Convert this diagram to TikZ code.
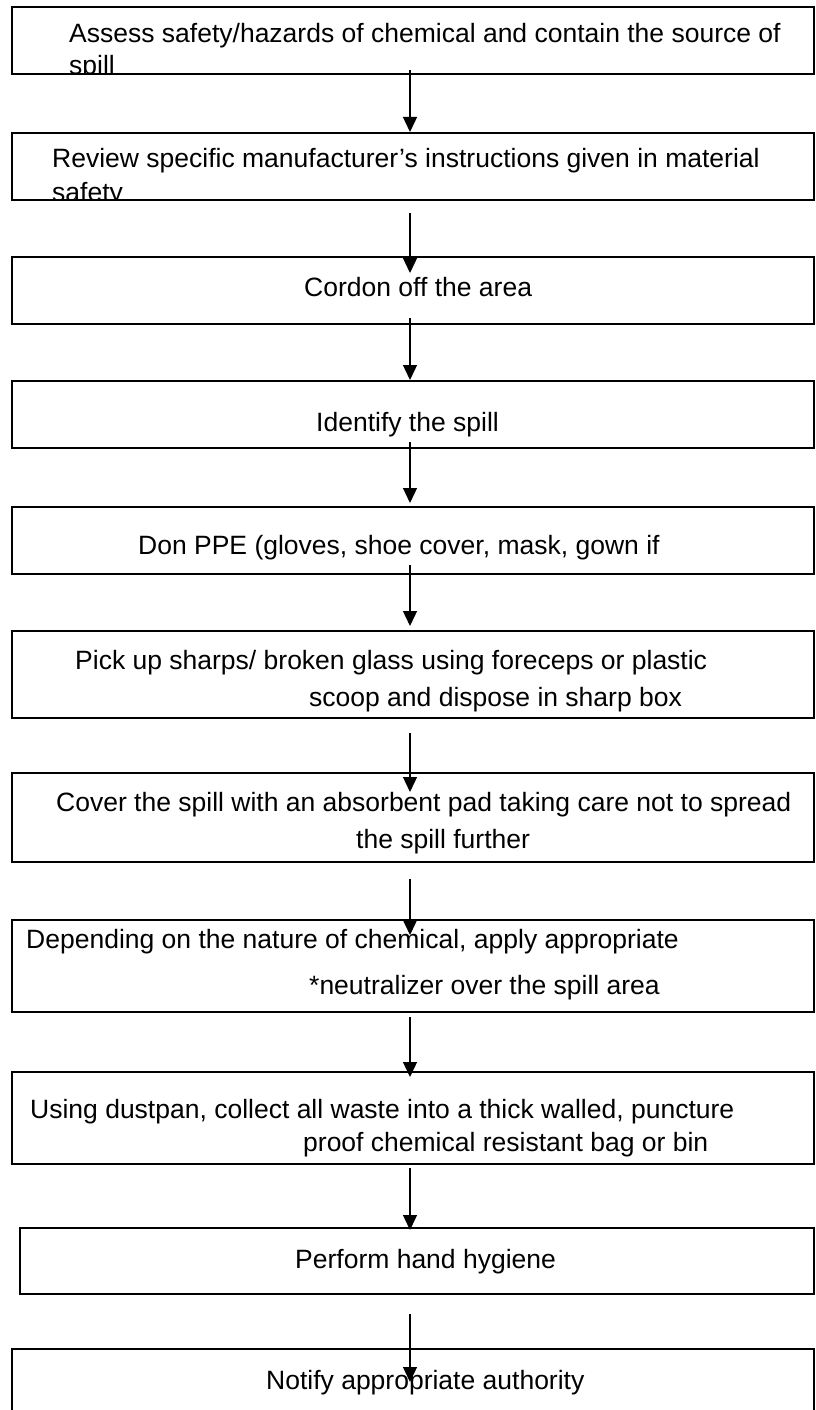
\documentclass[tikz,border=0pt]{standalone}
\usepackage{fontspec}
\setmainfont{Liberation Sans}
\usetikzlibrary{arrows.meta,calc}
\tikzset{
  stepbox/.style={draw=black,line width=1.6pt,inner sep=0pt,outer sep=0pt,minimum width=802pt},
  steptext/.style={anchor=base west,inner sep=0pt,font=\fontsize{26.5}{30}\selectfont},
  flow/.style={line width=1.3pt,-{Triangle[length=15pt,width=14pt]}}
}
\begin{document}
\begin{tikzpicture}[line cap=butt,line join=miter,x=1pt,y=-1pt]
				\useasboundingbox (0,0) rectangle (815,1410);
				\clip (0,0) rectangle (815,1410);
				% boxes
				\node[stepbox,minimum height=67pt] (b1) at (413,40.5) {};
				\node[stepbox,minimum height=67pt] (b2) at (413,166.5) {};
				\node[stepbox,minimum height=67pt] (b3) at (413,290.5) {};
				\node[stepbox,minimum height=67pt] (b4) at (413,414.5) {};
				\node[stepbox,minimum height=67pt] (b5) at (413,540.5) {};
				\node[stepbox,minimum height=87pt] (b6) at (413,674.5) {};
				\node[stepbox,minimum height=89pt] (b7) at (413,817.5) {};
				\node[stepbox,minimum height=92pt] (b8) at (413,966) {};
				\node[stepbox,minimum height=92pt] (b9) at (413,1118) {};
				\node[stepbox,minimum height=66pt,minimum width=794pt] (b10) at (417,1261) {};
				\node[stepbox,minimum height=81pt] (b11) at (413,1389.5) {};
				% texts (the first two boxes cut off their second line)
				\begin{scope}
				\clip (b1.north west) rectangle (b1.south east);
				\node[steptext] (t1a) at (69,42.7) {Assess safety/hazards of chemical and contain the source of};
				\node[steptext] (t1b) at (69,75) {spill};
				\end{scope}
				\begin{scope}
				\clip (b2.north west) rectangle (b2.south east);
				\node[steptext] (t2a) at (52,167.7) {Review specific manufacturer’s instructions given in material};
				\node[steptext] (t2b) at (52,201) {safety};
				\end{scope}
				\node[steptext] (t3) at (304,296) {Cordon off the area};
				\node[steptext] (t4) at (316,431) {Identify the spill};
				\node[steptext] (t5) at (138,554) {Don PPE (gloves, shoe cover, mask, gown if};
				\node[steptext] (t6a) at (75,669) {Pick up sharps/ broken glass using foreceps or plastic};
				\node[steptext] (t6b) at (309,706) {scoop and dispose in sharp box};
				\node[steptext] (t7a) at (56,811) {Cover the spill with an absorbent pad taking care not to spread};
				\node[steptext] (t7b) at (356,848) {the spill further};
				\node[steptext] (t8a) at (26,948) {Depending on the nature of chemical, apply appropriate};
				\node[steptext] (t8b) at (309,994) {*neutralizer over the spill area};
				\node[steptext] (t9a) at (30,1118) {Using dustpan, collect all waste into a thick walled, puncture};
				\node[steptext] (t9b) at (303,1151) {proof chemical resistant bag or bin};
				\node[steptext] (t10) at (295,1268) {Perform hand hygiene};
				\node[steptext] (t11) at (266,1389) {Notify appropriate authority};
				% arrows
				\coordinate (ax) at (410,0);
				\foreach \a/\b/\s/\t in {b1/b2/-4/-1,b2/b3/13/16,b3/b4/-6/-1,b4/b5/-6/-4,b5/b6/-9/-5,b6/b7/15/19,b7/b8/17/15,b8/b9/5/5,b9/b10/4/2,b10/b11/20/33}
				\draw[flow] ($(\a.south -| ax)+(0,\s)$) -- ($(\b.north -| ax)+(0,\t)$);
			\end{tikzpicture}
\end{document}
